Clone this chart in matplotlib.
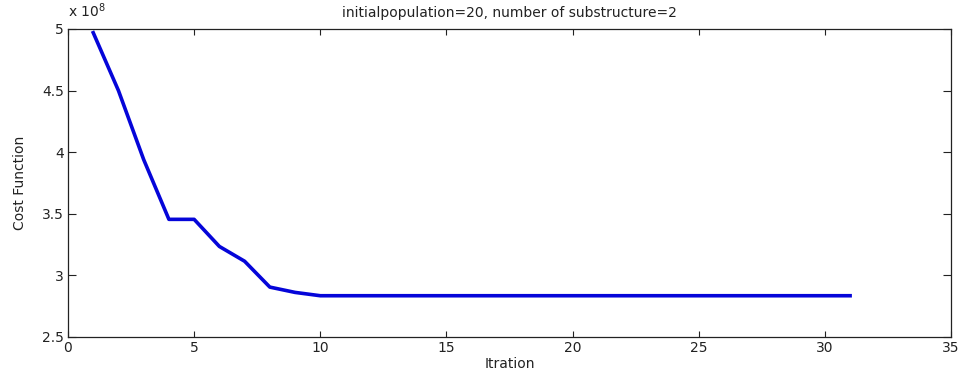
import matplotlib
matplotlib.use("Agg")
import matplotlib.pyplot as plt
from matplotlib.ticker import FormatStrFormatter, MultipleLocator

plt.rcParams['font.family'] = ['DejaVu Sans']

iterations = list(range(1, 32))
cost_e8 = [4.97, 4.50, 3.94, 3.455, 3.455, 3.235, 3.115, 2.905, 2.862, 2.835] + [2.835] * 21

fig = plt.figure(figsize=(9.62, 3.73), dpi=100)
ax = fig.add_axes([68/962, 1 - 337/373, (951-68)/962, (337-29)/373])
ax.plot(iterations, cost_e8, color=(0.02, 0.02, 0.85), lw=2.6, solid_joinstyle='round')
ax.set_xlim(0, 35)
ax.set_ylim(2.5, 5)
ax.xaxis.set_major_locator(MultipleLocator(5))
ax.yaxis.set_major_locator(MultipleLocator(0.5))
ax.yaxis.set_major_formatter(FormatStrFormatter('%g'))
ax.tick_params(direction='in', top=True, right=True, labelsize=10, width=0.8, colors='#222222')
ax.tick_params(axis='x', length=4.5, pad=3)
ax.tick_params(axis='y', length=6, pad=3)
for s in ax.spines.values():
    s.set_linewidth(0.9)
    s.set_color('#222222')
ax.set_title('initialpopulation=20, number of substructure=2', fontsize=10, pad=9, color='#222222')
ax.set_xlabel('Itration', fontsize=10, labelpad=1.5, color='#222222')
ax.set_ylabel('Cost Function', fontsize=10, labelpad=11, color='#222222')
ax.text(0.0, 1.03, r'x 10$^{8}$', transform=ax.transAxes, fontsize=10, ha='left', va='bottom', color='#222222')
fig.savefig('out.png', dpi=100)
